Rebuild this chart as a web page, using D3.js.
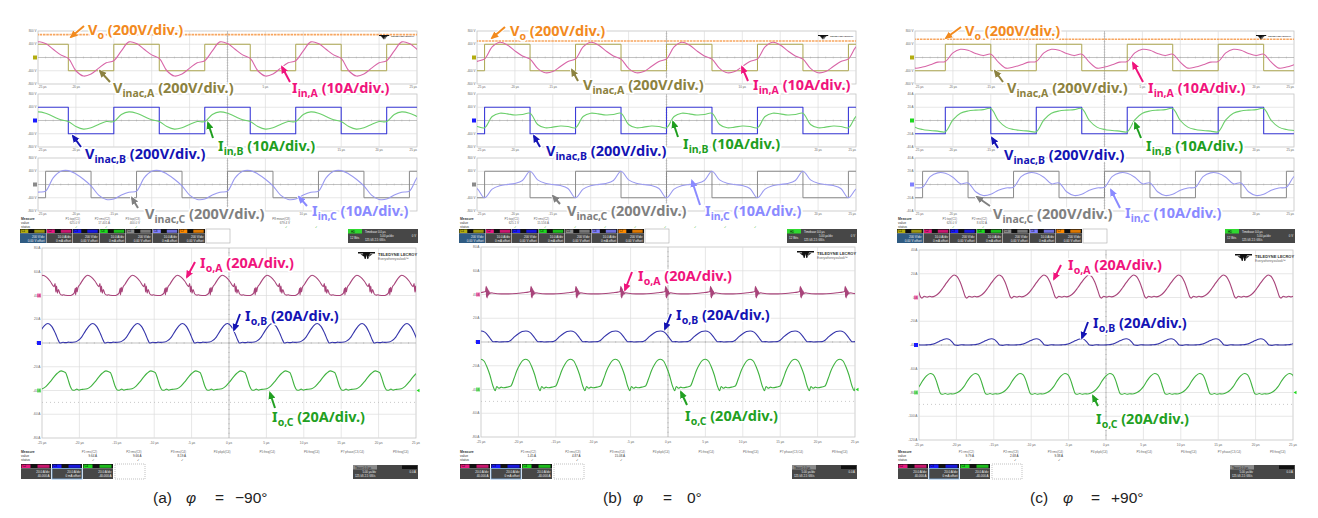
<!DOCTYPE html>
<html>
<head>
<meta charset="utf-8">
<script src="https://cdn.jsdelivr.net/npm/d3@7"></script>
<style>
  body { margin: 0; background: #fff; }
  text { font-family: "Liberation Sans", Arial, sans-serif; }
</style>
</head>
<body>
<script>
var width = 1318, height = 518;

var panelTags = ["(a)", "(b)", "(c)"];
var phiValues = ["\u221290\u00b0", "0\u00b0", "+90\u00b0"];
var timeTicks = [-25, -20, -15, -10, -5, 0, 5, 10, 15, 20, 25];
var timeLabels = ["-25 \u00b5s", "-20 \u00b5s", "-15 \u00b5s", "-10 \u00b5s", "-5 \u00b5s", "0 \u00b5s",
                  "5 \u00b5s", "10 \u00b5s", "15 \u00b5s", "20 \u00b5s", "25 \u00b5s"];
var voltLabels = ["800 V", "400 V", "", "-400 V", "-800 V"];
var ampLabels = ["40 A", "20 A", "", "-20 A", "-40 A"];
var topAxisLabels = [[voltLabels, voltLabels, voltLabels],
                     [voltLabels, voltLabels, voltLabels],
                     [voltLabels, ampLabels, ampLabels]];
var bottomLabels = [["80 A", "60 A", "40 A", "20 A", "0 A", "-20 A", "-40 A", "-60 A", "-80 A"],
                    ["80 A", "60 A", "40 A", "20 A", "0 A", "-20 A", "-40 A", "-60 A", "-80 A"],
                    ["40 A", "20 A", "0 A", "-20 A", "-40 A", "-60 A", "-80 A", "-100 A", "-120 A"]];
var bottomRange = [[-80, 80], [-80, 80], [-120, 40]];

var switchPeriod = 12;   // us
var outPeriod = 6;       // us
var riseAB = [-3, 0, 3]; // rising edge of Vinac,A and Vinac,B (us)
var riseC = [0, 0, 0];   // rising edge of Vinac,C (us)
var vinacLevel = 400;    // V
var voLevel = [690, 500, 550];

// input currents, one switching period, every 1 us from the phase's own rising edge (A)
var iinA = [[-2.4, 5, 11.8, 10.5, 6.2, 2, -0.7, -10, -14, -12.5, -8, -4],
            [-1, 8, 11.5, 9.5, 5, 1.2, -1.2, -8.2, -11.5, -10.6, -6.8, -3],
            [-3, 3.5, 6.2, 5.5, 3, 1.5, 2.5, -3.5, -8, -7.2, -5.5, -3.5]];
var iinB = [[-0.8, 4.5, 6.5, 5.5, 3, 0.5, -0.8, -4.5, -6.5, -5.5, -3, -0.8],
            [-5.5, 3, 5.5, 5, 4.2, 4.5, 5.5, -3, -5.5, -5, -4.2, -4.5],
            [-8.5, 0.5, 5.5, 7.2, 7.8, 8.2, 9, 0, -5, -6.8, -7.5, -8]];
var iinC = [[-5, 5, 10, 10.5, 8, 4, -1, -8, -11.3, -11, -8, -5.8],
            [-10, -3.5, -1, 0, 0.8, 3, 10, 3.5, 1, 0, -0.8, -3],
            [-2, 6, 8.8, 8.5, 5.5, 0.5, 1.2, -5.5, -8.3, -7.4, -4.3, -2.6]];

// output currents, one period as [us from peak, A above channel offset]
var ioA = [
  [[-3, 0.2], [-2.4, 0], [-2.1, 0.5], [-1.8, 2], [-1.65, 6], [-1.6, 0.5], [-1.5, 7], [-1.4, 3], [-1.3, 6.5],
   [-1, 9.5], [-0.5, 14.5], [0, 17], [0.5, 15.5], [1, 12], [1.5, 7.5], [1.65, 10], [1.75, 3], [1.85, 8],
   [1.95, 2], [2.1, 5], [2.3, 1.5], [2.6, 0.3], [2.8, 0.6]],
  [[-3, 0.5], [-2, 0.8], [-1, 1.5], [-0.4, 2], [-0.1, 2.5], [0, 7], [0.04, -2], [0.08, 6], [0.12, -3],
   [0.16, 5], [0.2, -1.5], [0.25, 4], [0.3, -0.5], [0.35, 3], [0.45, 0.5], [0.6, 1.5], [1, 1], [2, 0.5]],
  [[-3, 0.5], [-2.5, 1.5], [-2, 4], [-1.5, 8], [-1, 12.5], [-0.5, 16.5], [0, 19], [0.4, 17.5], [0.8, 13],
   [1.2, 6], [1.5, 0.5], [1.7, -0.5], [2, 1], [2.4, 0.3], [2.7, 1]]];
var ioB = [
  [[-3, 0.5], [-2.4, 0.8], [-2, 2], [-1.5, 5], [-1, 10], [-0.5, 14.5], [0, 16.4], [0.5, 14], [1, 8],
   [1.4, 2], [1.6, 0], [2, 0.6], [2.4, 0.3], [2.7, 0.7]],
  [[-3, 0.2], [-2.4, 0.3], [-2, 1.5], [-1.5, 4.5], [-1, 7], [-0.5, 8.8], [0, 9.3], [0.5, 8.3], [1, 5],
   [1.4, 1.5], [1.6, 0.2], [2, 0.3], [2.5, 0]],
  [[-3, 0], [-2.5, 0.2], [-2, 0.5], [-1.5, 1.5], [-1, 3], [-0.5, 4.5], [0, 5.3], [0.4, 4.5], [0.8, 2],
   [1.1, 0], [1.5, -0.3], [2, 0.2], [2.5, 0]]];
var ioC = [
  [[-3, 1], [-2.5, 1.5], [-2, 3.5], [-1.5, 7], [-1, 11], [-0.5, 14.5], [0, 16.5], [0.3, 16], [0.6, 15],
   [0.9, 10], [1.2, 4], [1.5, 0.5], [1.8, 0.2], [2.1, 1.2], [2.4, 0.3], [2.7, 0.9]],
  [[-3, 1.5], [-2.5, 2], [-2, 3], [-1.6, 9], [-1.2, 16], [-0.8, 21], [-0.4, 24.5], [0, 25.5], [0.4, 24],
   [0.8, 19], [1.2, 12], [1.6, 3], [1.9, -1], [2.1, 2.5], [2.4, 1], [2.7, 2]],
  [[-3, -1.3], [-2.5, -0.5], [-2, 1.5], [-1.5, 5], [-1, 10], [-0.5, 14], [0, 16], [0.4, 15], [0.8, 10],
   [1.1, 4], [1.4, -1], [1.7, -1.5], [2, -0.8], [2.3, -1.5], [2.7, -1]]];
var ioAPeak = [-18.9, -0.3, -20.3];
var ioBPeak = [-0.2, -1, -21.3];
var ioCPeak = [-22.45, -1, -23.5];
var ioOffset = [[40, 0, -40], [40, 0, -40], [0, -40, -80]];
var dottedLevel = [-50, -50, -90];

var topMeasureNames = ["P1:top(C1)", "P2:rms(C2)", "P3:top(C3)", "P4:rms(C4)", "P5:top(C5)",
                       "P6:rms(C6)", "P7:top(C7)", "P8:mean(C8)", "P9:freq(C1)"];
var topMeasureValues = [["625.0 V", "17.401 A", "400.0 V", "5.112 A", "417.3 V", "7.35 A", "83.6 V", "679.4 V", "-4.0 mV"],
                        ["625.1 V", "15.556 A", "400.2 V", "4.87 A", "447.0 V", "8.400 A", "-0.000 V", "540.7 V", "-4.0 mV"],
                        ["626.0 V", "8.632 A", "400.0 V", "6.80 A", "403.1 V", "5.21 A", "560.0 V", "-89.96 \u00b0", "-89.12 \u00b0"]];
var botMeasureNames = ["P1:rms(C2)", "P2:rms(C3)", "P3:rms(C4)", "P4:pkpk(C4)", "P5:freq(C4)",
                       "P6:freq(C4)", "P7:phase(C3,C4)", "P8:freq(C4)"];
var botMeasureValues = [["9.64 A", "9.66 A", "8.19 A"], ["1.45 A", "4.87 A", "15.08 A"], ["9.79 A", "2.68 A", "9.38 A"]];
var topChannels = ["C1", "C2", "C3", "C4", "C5", "C6", "C7"];
var topChannelText = [["200 V/div", "0.00 V offset"], ["10.0 A/div", "0 mA offset"], ["200 V/div", "0.00 V offset"],
                      ["10.0 A/div", "0 mA offset"], ["200 V/div", "0.00 V offset"], ["10.0 A/div", "0 mA offset"],
                      ["200 V/div", "0.00 V offset"]];
var botChannels = ["C2", "C3", "C4"];
var botChannelText = [["20.0 A/div", "40.000 A"], ["20.0 A/div", "0 mA offset"], ["20.0 A/div", "-40.000 A"]];

// ---------- layout / styles ----------
var panelDx = [0, 439, 877];
var topX = [38, 417];
var gridY = [[31, 84], [94, 147], [158, 211]];
var botX = [42, 416];
var botY = [[248, 438], [247, 437], [250, 440]];
var chanColor = ["#b3ad10", "#e8197f", "#1a1aff", "#1fd81f", "#8a8a8a", "#8080ff", "#ff8a00"];

var col = {
  Vo: "#f7a660", VA: "#aca650", IA: "#d866a8", VB: "#3b3bd8", IB: "#6ccf6c", VC: "#8a8a8a", IC: "#9a9af0",
  OA: "#a8447a", OB: "#3434aa", OC: "#3fb23f"
};
var annoSpec = {
  Vo: {main: "V", sub: "o", rest: "(200V/div.)", color: "#f28a1e"},
  VA: {main: "V", sub: "inac,A", rest: "(200V/div.)", color: "#8c8240"},
  IA: {main: "I", sub: "in,A", rest: "(10A/div.)", color: "#f0147c"},
  VB: {main: "V", sub: "inac,B", rest: "(200V/div.)", color: "#1414b4"},
  IB: {main: "I", sub: "in,B", rest: "(10A/div.)", color: "#1e9e1e"},
  VC: {main: "V", sub: "inac,C", rest: "(200V/div.)", color: "#808080"},
  IC: {main: "I", sub: "in,C", rest: "(10A/div.)", color: "#8a8aff"},
  OA: {main: "I", sub: "o,A", rest: "(20A/div.)", color: "#f0147c"},
  OB: {main: "I", sub: "o,B", rest: "(20A/div.)", color: "#1414b4"},
  OC: {main: "I", sub: "o,C", rest: "(20A/div.)", color: "#22a022"}
};
// [label x, baseline, arrow tail x, y, head x, y]
var annoPos = [
  {Vo: [88, 35, 84, 26, 71, 37], VA: [113, 93, 110, 82, 100, 71], IA: [292, 93, 290, 82, 282, 67],
   VB: [85, 159, 81, 147, 73, 136], IB: [218, 151, 213, 138, 208, 123], VC: [145, 219, 138, 208, 132, 198],
   IC: [312, 216, 307, 206, 299, 197], OA: [200, 268, 195, 262, 187, 277], OB: [245, 321, 240, 314, 234, 330],
   OC: [272, 422, 275, 408, 270, 393]},
  {Vo: [510, 36, 505, 27, 492, 38], VA: [583, 90, 578, 81, 572, 70], IA: [753, 90, 748, 81, 742, 67],
   VB: [546, 156, 540, 147, 534, 136], IB: [683, 149, 678, 137, 673, 122], VC: [567, 216, 560, 204, 553, 196],
   IC: [705, 216, 700, 205, 692, 181], OA: [638, 281, 632, 272, 625, 290], OB: [676, 320, 671, 314, 665, 329],
   OC: [685, 421, 687, 405, 681, 392]},
  {Vo: [965, 36, 961, 27, 946, 38], VA: [1007, 93, 1003, 82, 995, 71], IA: [1148, 93, 1143, 82, 1133, 63],
   VB: [1004, 160, 998, 148, 992, 138], IB: [1146, 151, 1141, 138, 1135, 123], VC: [993, 219, 990, 206, 977, 197],
   IC: [1125, 218, 1120, 208, 1111, 190], OA: [1068, 270, 1061, 265, 1054, 279], OB: [1093, 328, 1088, 322, 1082, 338],
   OC: [1096, 424, 1098, 406, 1093, 396]}
];
var captionX = [[153, 186, 215, 235], [603, 633, 663, 687], [1030, 1063, 1091, 1111]];

// ---------- helpers ----------
var svg = d3.select("body").append("svg").attr("width", width).attr("height", height);
var defs = svg.append("defs");

function periodicSamples(samples, start, per) {
  var pts = [];
  for (var m = -4; m <= 4; m++) {
    samples.forEach(function (v, k) {
      var t = start + m * per + k * per / samples.length;
      if (t >= -27 && t <= 27) pts.push([t, v]);
    });
  }
  return pts.sort(function (a, b) { return a[0] - b[0]; });
}
function periodicPairs(pairs, peak, per, offset) {
  var pts = [];
  for (var m = -9; m <= 9; m++) {
    pairs.forEach(function (d) {
      var t = peak + m * per + d[0];
      if (t >= -27 && t <= 27) pts.push([t, d[1] + offset]);
    });
  }
  return pts.sort(function (a, b) { return a[0] - b[0]; });
}
function squarePoints(rise, level) {
  var pts = [];
  for (var m = -4; m <= 4; m++) {
    pts.push([rise + m * switchPeriod, level]);
    pts.push([rise + m * switchPeriod + switchPeriod / 2, -level]);
  }
  return pts.filter(function (d) { return d[0] > -45 && d[0] < 45; }).sort(function (a, b) { return a[0] - b[0]; });
}

var clipCount = 0;
function clipFor(x0, x1, y0, y1) {
  var id = "clip" + (clipCount++);
  defs.append("clipPath").attr("id", id).append("rect")
    .attr("x", x0).attr("y", y0).attr("width", x1 - x0).attr("height", y1 - y0);
  return "url(#" + id + ")";
}

function drawGrid(g, x0, x1, y0, y1, ny) {
  var w = x1 - x0, h = y1 - y0;
  g.append("rect").attr("x", x0).attr("y", y0).attr("width", w).attr("height", h)
    .attr("fill", "#fff").attr("stroke", "#c4c4c4").attr("stroke-width", 0.8);
  g.selectAll(null).data(d3.range(1, 10)).enter().append("line")
    .attr("x1", function (i) { return x0 + i * w / 10; }).attr("x2", function (i) { return x0 + i * w / 10; })
    .attr("y1", y0).attr("y2", y1)
    .attr("stroke", function (i) { return i === 5 ? "#a8a8a8" : "#dddddd"; }).attr("stroke-width", 0.7);
  g.selectAll(null).data(d3.range(1, ny)).enter().append("line")
    .attr("y1", function (j) { return y0 + j * h / ny; }).attr("y2", function (j) { return y0 + j * h / ny; })
    .attr("x1", x0).attr("x2", x1)
    .attr("stroke", function (j) { return j === ny / 2 ? "#a8a8a8" : "#dddddd"; }).attr("stroke-width", 0.7);
  var cx = x0 + w / 2, cy = y0 + h / 2;
  g.selectAll(null).data(d3.range(1, 50)).enter().append("line")
    .attr("x1", function (i) { return x0 + i * w / 50; }).attr("x2", function (i) { return x0 + i * w / 50; })
    .attr("y1", cy - 0.9).attr("y2", cy + 0.9).attr("stroke", "#a8a8a8").attr("stroke-width", 0.5);
  g.selectAll(null).data(d3.range(1, ny * 5)).enter().append("line")
    .attr("y1", function (j) { return y0 + j * h / (ny * 5); }).attr("y2", function (j) { return y0 + j * h / (ny * 5); })
    .attr("x1", cx - 0.9).attr("x2", cx + 0.9).attr("stroke", "#a8a8a8").attr("stroke-width", 0.5);
}

function tiny(g, x, y, s, opts) {
  opts = opts || {};
  return g.append("text").attr("class", "tiny").attr("x", x).attr("y", y).text(s)
    .attr("font-size", opts.size || 3.4).attr("fill", opts.fill || "#666")
    .attr("font-weight", opts.weight || "normal")
    .attr("text-anchor", opts.anchor || "start");
}

function drawTrace(g, pts, x, y, color, curve, w) {
  g.append("path").datum(pts)
    .attr("d", d3.line().x(function (d) { return x(d[0]); }).y(function (d) { return y(d[1]); }).curve(curve))
    .attr("fill", "none").attr("stroke", color).attr("stroke-width", w || 1.1)
    .attr("stroke-linejoin", "round");
}

function drawLogo(g, x, y, big) {
  var s = big ? 1 : 0.6;
  var lg = g.append("g").attr("transform", "translate(" + x + "," + y + ") scale(" + s + ")");
  lg.append("path").attr("d", "M0,0 L17,0 L17,1.6 L12,1.6 L10.2,7 L9.3,7 L8.5,3 L7.7,7 L6.8,7 L5,1.6 L0,1.6 Z M2.5,2.2 L5.5,2.2 L6.5,5 Z M14.5,2.2 L11.5,2.2 L10.5,5 Z")
    .attr("fill", "#111");
  tiny(lg, 20, 3.5, "TELEDYNE LECROY", {size: 4, fill: "#333", weight: "bold"});
  if (big) tiny(lg, 20, 7.5, "Everywhereyoulook\u2122", {size: 3.2, fill: "#666"});
}

function chanBox(g, x, y, w, h, color, tag, lines, bodyFill, border) {
  g.append("rect").attr("x", x).attr("y", y).attr("width", w).attr("height", 4.5).attr("fill", "#111");
  g.append("rect").attr("x", x + 0.5).attr("y", y + 0.5).attr("width", w * 0.3).attr("height", 3.5).attr("fill", color);
  g.append("rect").attr("x", x + w * 0.55).attr("y", y + 0.7).attr("width", w * 0.4).attr("height", 3.1).attr("fill", color).attr("opacity", 0.85);
  tiny(g, x + 1.5, y + 3.3, tag, {size: 2.8, fill: "#000"});
  g.append("rect").attr("x", x).attr("y", y + 4.5).attr("width", w).attr("height", h - 4.5)
    .attr("fill", bodyFill).attr("stroke", border || "none").attr("stroke-width", 0.8);
  lines.forEach(function (s, i) {
    tiny(g, x + w - 1.5, y + 8.5 + i * 4, s, {size: 3, fill: "#eee", anchor: "end"});
  });
}

// arrow heads, one per label colour
Object.keys(annoSpec).forEach(function (k) {
  defs.append("marker").attr("id", "head-" + k).attr("markerUnits", "userSpaceOnUse")
    .attr("markerWidth", 8).attr("markerHeight", 8).attr("refX", 6).attr("refY", 4).attr("orient", "auto")
    .append("path").attr("d", "M0,0.5 L8,4 L0,7.5 Z").attr("fill", annoSpec[k].color);
});

function annotate(g, key, pos) {
  var a = annoSpec[key];
  g.append("line").attr("x1", pos[2]).attr("y1", pos[3]).attr("x2", pos[4]).attr("y2", pos[5])
    .attr("stroke", "#fff").attr("stroke-width", 4).attr("stroke-linecap", "round");
  g.append("line").attr("x1", pos[2]).attr("y1", pos[3]).attr("x2", pos[4]).attr("y2", pos[5])
    .attr("stroke", a.color).attr("stroke-width", 2).attr("marker-end", "url(#head-" + key + ")");
  var t = g.append("text").attr("class", "anno").attr("x", pos[0]).attr("y", pos[1])
    .attr("fill", a.color).attr("stroke", "#fff").attr("stroke-width", 3.5)
    .attr("stroke-linejoin", "round").attr("paint-order", "stroke")
    .style("font-family", "'Noto Sans', 'Liberation Sans', sans-serif")
    .style("font-weight", "bold").style("font-size", "14.5px");
  t.append("tspan").text(a.main);
  t.append("tspan").attr("dy", 4).style("font-size", "10.5px").text(a.sub);
  t.append("tspan").attr("dy", -4).text("\u00a0" + a.rest);
}

// ---------- draw the three scope shots ----------
panelTags.forEach(function (tag, p) {
  var dx = panelDx[p];
  var g = svg.append("g");
  var x = d3.scaleLinear().domain([-25, 25]).range([topX[0] + dx, topX[1] + dx]);

  // upper screen: three grids
  var rows = [
    {marker: chanColor[0], v: [["Vo", [[-30, voLevel[p]], [30, voLevel[p]]], d3.curveLinear, 1.6],
                              ["VA", squarePoints(riseAB[p], vinacLevel), d3.curveStepAfter, 1]],
     i: ["IA", periodicSamples(iinA[p], riseAB[p], switchPeriod)]},
    {marker: chanColor[2], v: [["VB", squarePoints(riseAB[p], vinacLevel), d3.curveStepAfter, 1.1]],
     i: ["IB", periodicSamples(iinB[p], riseAB[p], switchPeriod)]},
    {marker: chanColor[4], v: [["VC", squarePoints(riseC[p], vinacLevel), d3.curveStepAfter, 1]],
     i: ["IC", periodicSamples(iinC[p], riseC[p], switchPeriod)]}
  ];
  if (p === 2) { rows[1].marker = chanColor[3]; rows[2].marker = chanColor[5]; }

  rows.forEach(function (row, r) {
    var y0 = gridY[r][0], y1 = gridY[r][1];
    drawGrid(g, x.range()[0], x.range()[1], y0, y1, 4);
    var yV = d3.scaleLinear().domain([-800, 800]).range([y1, y0]);
    var yI = d3.scaleLinear().domain([-20, 20]).range([y1, y0]);
    topAxisLabels[p][r].forEach(function (s, j) {
      if (s) tiny(g, x.range()[0] - 1.5, y0 + j * (y1 - y0) / 4 + 1.2, s, {anchor: "end", size: 3});
    });
    timeTicks.forEach(function (t, j) {
      tiny(g, x(t), y1 + 4, timeLabels[j], {anchor: j === 0 ? "start" : (j === 10 ? "end" : "middle"), size: 3});
    });
    g.append("rect").attr("x", x.range()[0] - 5).attr("y", yV(0) - 2).attr("width", 4).attr("height", 4)
      .attr("fill", row.marker);
    var cg = g.append("g").attr("clip-path", clipFor(x.range()[0], x.range()[1], y0, y1));
    row.v.forEach(function (v) {
      if (v[0] === "Vo") {
        cg.append("path").datum(v[1])
          .attr("d", d3.line().x(function (d) { return x(d[0]); }).y(function (d) { return yV(d[1]); }))
          .attr("stroke", col.Vo).attr("stroke-width", v[3]).attr("stroke-dasharray", "2.5,0.8").attr("fill", "none");
      } else {
        drawTrace(cg, v[1], x, yV, col[v[0]], v[2], v[3]);
      }
    });
    drawTrace(cg, row.i[1], x, yI, col[row.i[0]], d3.curveCatmullRom.alpha(0.5), 1.1);
    if (r === 0) drawLogo(g, x.range()[1] - 38, y0 + 4, false);
  });

  // upper measure strip
  tiny(g, 21 + dx, 220, "Measure", {weight: "bold", fill: "#333"});
  tiny(g, 21 + dx, 224, "value", {fill: "#333"});
  tiny(g, 21 + dx, 228, "status", {fill: "#333"});
  topMeasureNames.forEach(function (s, i) {
    var cx = 80 + dx + i * 30;
    tiny(g, cx, 220, s, {anchor: "end", size: 3});
    tiny(g, cx, 224, topMeasureValues[p][i], {anchor: "end", size: 3});
    tiny(g, cx - 2, 228, "\u2713", {anchor: "end", size: 3, fill: "#2a2"});
  });
  topChannels.forEach(function (c, i) {
    chanBox(g, 20 + dx + i * 26.5, 229, 26, 14, chanColor[i], c, topChannelText[i], i === 0 ? "#2f5b82" : "#474747");
  });
  g.append("rect").attr("x", 206 + dx).attr("y", 229).attr("width", 24).attr("height", 14)
    .attr("fill", "#fff").attr("stroke", "#aaa").attr("stroke-width", 0.6);
  g.append("rect").attr("x", 348 + dx).attr("y", 229).attr("width", 70).attr("height", 14).attr("fill", "#474747");
  g.append("rect").attr("x", 348 + dx).attr("y", 229).attr("width", 14).attr("height", 4.5).attr("fill", "#2fd82f");
  tiny(g, 351 + dx, 232.5, "HD", {size: 2.8, fill: "#000"});
  tiny(g, 350 + dx, 238.5, "12 Bits", {size: 3, fill: "#eee"});
  tiny(g, 365 + dx, 232.5, "Timebase   0.0 \u00b5s", {size: 2.8, fill: "#eee"});
  tiny(g, 380 + dx, 236.5, "5.00 \u00b5s/div", {size: 2.8, fill: "#eee"});
  tiny(g, 365 + dx, 240.5, "125 kS   2.5 GS/s", {size: 2.8, fill: "#eee"});
  tiny(g, 416 + dx, 236.5, "0 V", {size: 2.8, fill: "#eee", anchor: "end"});

  // lower screen: output currents
  var bx = d3.scaleLinear().domain([-25, 25]).range([botX[0] + dx, botX[1] + dx]);
  var by0 = botY[p][0], by1 = botY[p][1];
  var by = d3.scaleLinear().domain(bottomRange[p]).range([by1, by0]);
  drawGrid(g, bx.range()[0], bx.range()[1], by0, by1, 8);
  g.append("line").attr("x1", bx.range()[0]).attr("x2", bx.range()[1])
    .attr("y1", by(dottedLevel[p])).attr("y2", by(dottedLevel[p]))
    .attr("stroke", "#bbb").attr("stroke-width", 0.8).attr("stroke-dasharray", "1,3");
  bottomLabels[p].forEach(function (s, j) {
    tiny(g, bx.range()[0] - 1.5, by0 + j * (by1 - by0) / 8 + 1.2, s, {anchor: "end", size: 3.2});
  });
  timeTicks.forEach(function (t, j) {
    tiny(g, bx(t), by1 + 5.8, timeLabels[j], {anchor: "middle", size: 3.2});
  });
  [["OA", chanColor[1]], ["OB", chanColor[2]], ["OC", chanColor[3]]].forEach(function (m, k) {
    g.append("rect").attr("x", bx.range()[0] - 5).attr("y", by(ioOffset[p][k]) - 2)
      .attr("width", 4).attr("height", 4).attr("fill", m[1]).attr("opacity", k === 1 ? 1 : 0.6);
  });
  g.append("path").attr("d", "M" + (bx.range()[1] + 0.5) + "," + by(ioOffset[p][2]) + " l3,-1.8 l0,3.6 z")
    .attr("fill", chanColor[3]);
  var bc = g.append("g").attr("clip-path", clipFor(bx.range()[0], bx.range()[1], by0, by1));
  drawTrace(bc, periodicPairs(ioA[p], ioAPeak[p], outPeriod, ioOffset[p][0]), bx, by, col.OA, d3.curveMonotoneX, 1.1);
  drawTrace(bc, periodicPairs(ioB[p], ioBPeak[p], outPeriod, ioOffset[p][1]), bx, by, col.OB, d3.curveMonotoneX, 1.1);
  drawTrace(bc, periodicPairs(ioC[p], ioCPeak[p], outPeriod, ioOffset[p][2]), bx, by, col.OC, d3.curveMonotoneX, 1.1);
  drawLogo(g, bx.range()[1] - 58, by0 + 4, true);

  // lower measure strip
  tiny(g, 21 + dx, 452.5, "Measure", {weight: "bold", fill: "#333"});
  tiny(g, 21 + dx, 456.5, "value", {fill: "#333"});
  tiny(g, 21 + dx, 460.5, "status", {fill: "#333"});
  botMeasureNames.forEach(function (s, i) {
    var cx = 97 + dx + i * 44.5;
    tiny(g, cx, 452.5, s, {anchor: "end", size: 3});
    if (i < 3) {
      tiny(g, cx, 456.5, botMeasureValues[p][i], {anchor: "end", size: 3, fill: "#333"});
      tiny(g, cx - 2, 460.5, "\u2713", {anchor: "end", size: 3, fill: "#333"});
    }
  });
  botChannels.forEach(function (c, i) {
    chanBox(g, 21 + dx + i * 31, 464, 30, 15, chanColor[i + 1], c, botChannelText[i],
      "#474747", i === 1 ? "#7fb0e0" : null);
  });
  g.append("rect").attr("x", 115 + dx).attr("y", 464).attr("width", 30).attr("height", 15)
    .attr("fill", "#fff").attr("stroke", "#999").attr("stroke-width", 0.6).attr("stroke-dasharray", "1,1");
  g.append("rect").attr("x", 353 + dx).attr("y", 465).attr("width", 65).attr("height", 14).attr("fill", "#474747");
  g.append("rect").attr("x", 353 + dx).attr("y", 465).attr("width", 24).attr("height", 4.5).attr("fill", "#8a8a8a");
  tiny(g, 355 + dx, 468.5, "Tbase   0.0 \u00b5s", {size: 2.8, fill: "#111"});
  tiny(g, 376 + dx, 472.5, "5.00 \u00b5s/div", {size: 2.8, fill: "#eee", anchor: "end"});
  tiny(g, 355 + dx, 476.5, "125 kS  2.5 GS/s", {size: 2.8, fill: "#eee"});
  g.append("rect").attr("x", 402 + dx).attr("y", 465.5).attr("width", 15).attr("height", 3.5).attr("fill", "#111");
  tiny(g, 416 + dx, 472.5, "0.0 A", {size: 2.8, fill: "#eee", anchor: "end"});

  // annotations
  Object.keys(annoSpec).forEach(function (k) { annotate(g, k, annoPos[p][k]); });

  // caption
  var cap = captionX[p];
  var ct = g.append("g").style("font-family", "'Noto Sans', 'Liberation Sans', sans-serif")
    .style("font-size", "15.5px").attr("fill", "#222");
  ct.append("text").attr("x", cap[0]).attr("y", 503).text(tag);
  ct.append("text").attr("x", cap[1]).attr("y", 503).style("font-style", "italic").text("\u03c6");
  ct.append("text").attr("x", cap[2]).attr("y", 503).text("=");
  ct.append("text").attr("x", cap[3]).attr("y", 503).text(phiValues[p]);
});

// scope screen text that sits under an annotation's white halo is hidden, as in the photos
var covers = [];
svg.selectAll("text.anno").each(function () {
  var b = this.getBoundingClientRect();
  covers.push({l: b.left - 1.5, r: b.right + 1.5, t: b.top - 1, b: b.bottom + 1});
});
svg.selectAll("text.tiny").each(function () {
  var b = this.getBoundingClientRect();
  var hit = covers.some(function (c) { return b.left < c.r && b.right > c.l && b.top < c.b && b.bottom > c.t; });
  if (hit) d3.select(this).remove();
});
</script>
</body>
</html>
